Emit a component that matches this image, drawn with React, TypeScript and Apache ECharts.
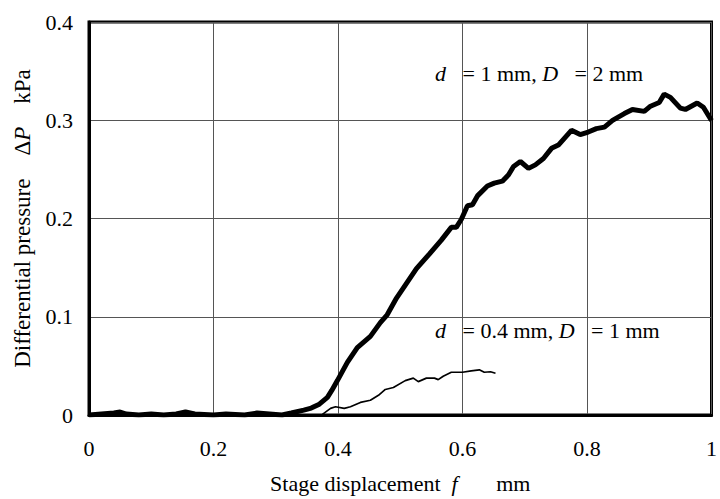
import React, { useEffect, useRef } from "react";
import * as echarts from "echarts";

const xTicks = [0, 0.2, 0.4, 0.6, 0.8, 1];
const yTicks = [0, 0.1, 0.2, 0.3, 0.4];

// d = 1 mm, D = 2 mm  (f [mm], ΔP [kPa])
const thickSeries: [number, number][] = [
  [0, 0], [0.02, 0.001], [0.04, 0.002], [0.05, 0.003], [0.06, 0.001], [0.08, 0.0], [0.1, 0.001],
  [0.12, 0.0], [0.14, 0.001], [0.155, 0.003], [0.17, 0.001], [0.2, 0.0], [0.22, 0.001],
  [0.25, 0.0], [0.27, 0.002], [0.29, 0.001], [0.31, 0.0], [0.325, 0.002], [0.345, 0.005],
  [0.357, 0.007], [0.37, 0.011], [0.383, 0.018], [0.39, 0.025], [0.399, 0.035], [0.415, 0.0536],
  [0.431, 0.0686], [0.452, 0.08], [0.468, 0.094], [0.479, 0.102], [0.494, 0.119], [0.51, 0.134],
  [0.526, 0.149], [0.547, 0.164], [0.566, 0.178], [0.582, 0.191], [0.59, 0.191], [0.598, 0.199],
  [0.608, 0.213], [0.616, 0.214], [0.624, 0.223], [0.64, 0.233], [0.651, 0.236], [0.664, 0.238],
  [0.674, 0.2445], [0.682, 0.253], [0.693, 0.258], [0.706, 0.251], [0.717, 0.2546], [0.73, 0.261],
  [0.743, 0.2714], [0.754, 0.2747], [0.775, 0.2897], [0.789, 0.2854], [0.802, 0.288], [0.815, 0.2915],
  [0.828, 0.293], [0.841, 0.2998], [0.86, 0.3068], [0.873, 0.311], [0.892, 0.309], [0.902, 0.3143],
  [0.916, 0.318], [0.924, 0.3266], [0.934, 0.3233], [0.95, 0.3123], [0.958, 0.311], [0.977, 0.3176],
  [0.987, 0.3132], [1.0, 0.2998],
];

// d = 0.4 mm, D = 1 mm
const thinSeries: [number, number][] = [
  [0.375, 0.0007], [0.388, 0.0067], [0.396, 0.0084], [0.41, 0.0067], [0.42, 0.0084], [0.436, 0.0128],
  [0.452, 0.015], [0.465, 0.02], [0.476, 0.026], [0.489, 0.028], [0.508, 0.035], [0.521, 0.0375],
  [0.529, 0.034], [0.542, 0.0375], [0.555, 0.0375], [0.561, 0.036], [0.569, 0.0395], [0.582, 0.0435],
  [0.6, 0.0435], [0.614, 0.045], [0.627, 0.046], [0.635, 0.0435], [0.645, 0.044], [0.653, 0.0425],
];

const FONT = "'Liberation Serif', 'Times New Roman', serif";
const FS = 22;

export default function App() {
  const ref = useRef<HTMLDivElement>(null);
  useEffect(() => {
    if (!ref.current) return;
    const chart = echarts.init(ref.current, null, { renderer: "svg" });
    const mk = (size: number) => ({
      i: { fontFamily: FONT, fontStyle: "italic", fontSize: size, color: "#000" },
      n: { fontFamily: FONT, fontStyle: "normal", fontSize: size, color: "#000" },
    });
    const rich = mk(FS);
    const richY = mk(23);
    const fmt = (ticks: number[]) => (v: number) => {
      const r = Math.round(v * 10) / 10;
      return ticks.includes(r) ? "{n|" + String(r) + "}" : "";
    };
    chart.setOption({
      animation: false,
      backgroundColor: "#fff",
      textStyle: { fontFamily: FONT, color: "#000" },
      grid: {
        left: 89, right: 2, top: 22, bottom: 79,
        show: true, borderColor: "#000", borderWidth: 3, backgroundColor: "transparent",
      },
      xAxis: {
        type: "value", min: 0, max: 1, interval: 0.2,
        name: "{n|Stage displacement  }{i|f}{n|       mm}",
        nameLocation: "middle", nameGap: 57,
        nameTextStyle: { fontFamily: FONT, fontSize: FS, rich },
        axisLine: { show: true, lineStyle: { color: "#000", width: 3 } },
        axisTick: { show: false },
        splitLine: { show: true, lineStyle: { color: "#555", width: 1 } },
        axisLabel: { margin: 22, color: "#000", fontFamily: FONT, fontSize: FS, formatter: fmt(xTicks), rich },
      },
      yAxis: {
        type: "value", min: 0, max: 0.4, interval: 0.1,
        name: "{n|Differential pressure    Δ}{i|P}{n|    kPa}",
        nameLocation: "middle", nameGap: 55, nameRotate: 90,
        nameTextStyle: { fontFamily: FONT, fontSize: 23, rich: richY },
        axisLine: { show: true, lineStyle: { color: "#000", width: 3 } },
        axisTick: { show: false },
        splitLine: { show: true, lineStyle: { color: "#555", width: 1 } },
        axisLabel: { margin: 16, color: "#000", fontFamily: FONT, fontSize: FS, formatter: fmt(yTicks), rich },
      },
      series: [
        {
          type: "line", data: thickSeries, showSymbol: false, smooth: false,
          lineStyle: { color: "#000", width: 5 }, z: 3,
        },
        {
          type: "line", data: thinSeries, showSymbol: false, smooth: false,
          lineStyle: { color: "#000", width: 1.7 }, z: 3,
        },
      ],
      graphic: [
        {
          type: "text", left: 435, top: 62, z: 10,
          style: { text: "{i|d}{n|   = 1 mm, }{i|D}{n|   = 2 mm}", rich, fill: "#000" },
        },
        {
          type: "text", left: 435, top: 319, z: 10,
          style: { text: "{i|d}{n|   = 0.4 mm, }{i|D}{n|   = 1 mm}", rich, fill: "#000" },
        },
      ],
    });
    return () => chart.dispose();
  }, []);
  return <div ref={ref} style={{ width: 720, height: 499, position: "fixed", left: 0, top: 0 }} />;
}
